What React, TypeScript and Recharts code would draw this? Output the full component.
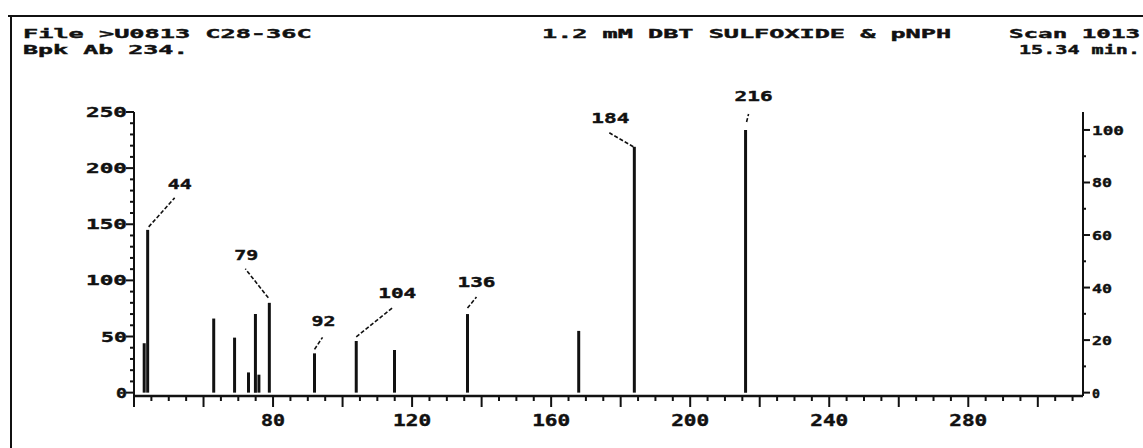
import { ComposedChart, Bar, XAxis, YAxis, LabelList } from "recharts";

// peaks (m/z, abundance counts)
const masses = [43, 44, 63, 69, 73, 75, 76, 79, 92, 104, 115, 136, 168, 184, 216];
const abundances = [44, 145, 66, 49, 18, 70, 16, 80, 35, 46, 38, 70, 55, 219, 234];
const labelledMasses = [44, 79, 92, 104, 136, 184, 216];

const basePeak = 234;
const massLabelTicks = [80, 120, 160, 200, 240, 280];
const abundanceLabelTicks = [0, 50, 100, 150, 200, 250];
const percentLabelTicks = [0, 20, 40, 60, 80, 100];

const headerLeft = ["File >U0813 C28-36C", "Bpk Ab 234."];
const headerTitle = "1.2 mM DBT SULFOXIDE & pNPH";
const headerScan = "Scan 1013";
const headerTime = "15.34 min.";

// minor tick positions (every 5 m/z, every 10 counts, every 10 %)
const massTicks = Array.from({ length: 55 }, (_, i) => 40 + i * 5);
const abundanceTicks = Array.from({ length: 26 }, (_, i) => i * 10);
const percentTicks = Array.from({ length: 11 }, (_, i) => i * 10);

const rows = masses.map((mz, i) => ({ mz, abundance: abundances[i] }));

// [text dx, text dy, leader x1, y1, x2, y2] relative to the peak top
const peakLabelOffsets: Record<number, number[]> = {
  44: [32, -47, 1, -3, 27, -32],
  79: [-23, -49, -1, -5, -24, -34],
  92: [9, -33, 0, -4, 8, -16],
  104: [41, -49, 0, -4, 36, -33],
  136: [9, -33, 0, -6, 9, -17],
  184: [-24, -30, -1, 0, -25, -14],
  216: [8, -35, 1, -8, 3, -16],
};

const FONT = "'DejaVu Sans Mono', monospace";
const INK = "#111";

function PlotText({
  x,
  y,
  text,
  anchor = "start",
  pitch = 15,
  size = 15,
}: {
  x: number;
  y: number;
  text: string;
  anchor?: "start" | "middle" | "end";
  pitch?: number;
  size?: number;
}) {
  return (
    <text
      x={x}
      y={y}
      textAnchor={anchor}
      textLength={text.length * pitch - 4}
      lengthAdjust="spacingAndGlyphs"
      fontFamily={FONT}
      fontWeight="bold"
      fontSize={size}
      fill={INK}
      stroke={INK}
      strokeWidth={0.4}
    >
      {text}
    </text>
  );
}

function MassTick(props: any) {
  const { x, y, payload } = props;
  const v = payload.value;
  const long = v % 20 === 0;
  return (
    <g>
      <line x1={x} y1={y} x2={x} y2={y + (long ? 11 : 5)} stroke={INK} strokeWidth={2} />
      {massLabelTicks.includes(v) && (
        <PlotText x={x} y={y + 30} text={String(v)} anchor="middle" pitch={14} size={15} />
      )}
    </g>
  );
}

function AbundanceTick(props: any) {
  const { x, y, payload } = props;
  const v = payload.value;
  const major = abundanceLabelTicks.includes(v);
  return (
    <g>
      <line x1={x - (major ? 8 : 4)} y1={y} x2={x} y2={y} stroke={INK} strokeWidth={2} />
      {major && <PlotText x={x - 7} y={y + 5} text={String(v)} anchor="end" pitch={15} size={14} />}
    </g>
  );
}

function PercentTick(props: any) {
  const { x, y, payload } = props;
  const v = payload.value;
  const major = percentLabelTicks.includes(v);
  return (
    <g>
      <line x1={x} y1={y} x2={x + (major ? 7 : 3)} y2={y} stroke={INK} strokeWidth={2} />
      {major && <PlotText x={x + 9} y={y + 5} text={String(v)} pitch={12} size={13} />}
    </g>
  );
}

function PeakLabel(props: any) {
  const { x, y, width, value } = props;
  if (!labelledMasses.includes(value)) return null;
  const o = peakLabelOffsets[value];
  const cx = x + width / 2;
  return (
    <g>
      <line
        x1={cx + o[2]}
        y1={y + o[3]}
        x2={cx + o[4]}
        y2={y + o[5]}
        stroke={INK}
        strokeWidth={1.6}
        strokeDasharray="4 2"
      />
      <PlotText x={cx + o[0]} y={y + o[1] + 6} text={String(value)} anchor="middle" pitch={14} size={14} />
    </g>
  );
}

export default function App() {
  return (
    <div style={{ position: "absolute", left: 0, top: 0, width: 1143, height: 448, background: "#fff" }}>
      <ComposedChart width={1143} height={448} data={rows} margin={{ top: 112, right: 0, bottom: 0, left: 0 }}>
        <XAxis
          dataKey="mz"
          type="number"
          domain={[40, 313]}
          allowDataOverflow
          ticks={massTicks}
          interval={0}
          height={52}
          axisLine={{ stroke: INK, strokeWidth: 2.5 }}
          tickLine={false}
          tickSize={0}
          tickMargin={0}
          tick={(p: any) => <MassTick {...p} />}
        />
        <YAxis
          yAxisId="abs"
          orientation="left"
          width={134}
          domain={[-3, 250]}
          allowDataOverflow
          ticks={abundanceTicks}
          interval={0}
          axisLine={{ stroke: INK, strokeWidth: 2 }}
          tickLine={false}
          tickSize={0}
          tickMargin={0}
          tick={(p: any) => <AbundanceTick {...p} />}
        />
        <YAxis
          yAxisId="pct"
          orientation="right"
          width={60}
          domain={[(-3 * 100) / basePeak, (250 * 100) / basePeak]}
          allowDataOverflow
          ticks={percentTicks}
          interval={0}
          axisLine={{ stroke: INK, strokeWidth: 2 }}
          tickLine={false}
          tickSize={0}
          tickMargin={0}
          tick={(p: any) => <PercentTick {...p} />}
        />
        <Bar yAxisId="abs" dataKey="abundance" fill={INK} barSize={3} isAnimationActive={false}>
          <LabelList dataKey="mz" content={(p: any) => <PeakLabel {...p} />} />
        </Bar>
      </ComposedChart>
      <svg
        width={1143}
        height={448}
        style={{ position: "absolute", left: 0, top: 0, pointerEvents: "none" }}
      >
        <line x1={8} y1={16} x2={1143} y2={16} stroke={INK} strokeWidth={2} />
        <line x1={11} y1={16} x2={11} y2={448} stroke={INK} strokeWidth={2} />
        <PlotText x={23} y={38} text={headerLeft[0]} pitch={15.4} size={12.5} />
        <PlotText x={23} y={54} text={headerLeft[1]} pitch={15.4} size={12.5} />
        <PlotText x={542} y={38} text={headerTitle} pitch={15.3} size={12.5} />
        <PlotText x={1140} y={38} text={headerScan} anchor="end" pitch={15} size={12.5} />
        <PlotText x={1140} y={54} text={headerTime} anchor="end" pitch={12.5} size={12.5} />
      </svg>
    </div>
  );
}
